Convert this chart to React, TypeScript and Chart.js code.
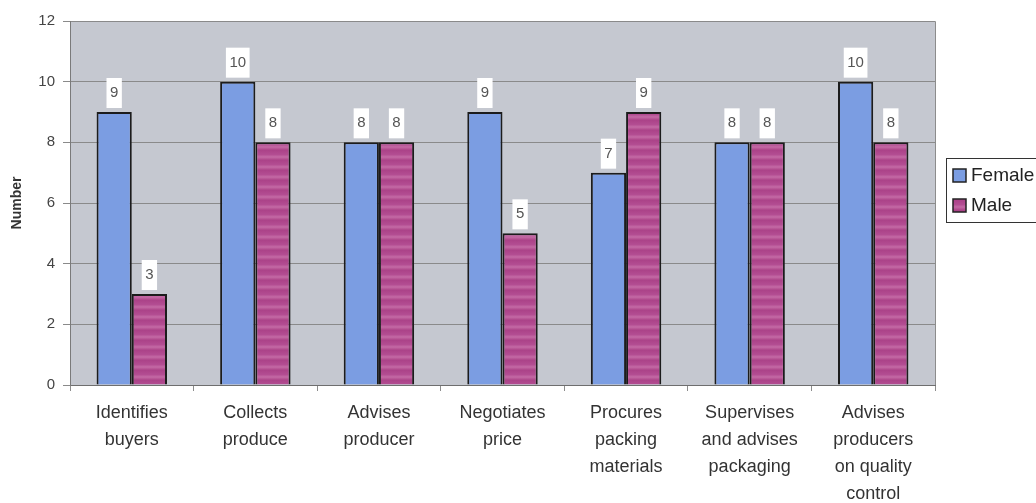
import React, { useEffect, useRef } from "react";
import { Chart, registerables } from "chart.js";

Chart.register(...registerables);

const categories: string[][] = [
  ["Identifies", "buyers"],
  ["Collects", "produce"],
  ["Advises", "producer"],
  ["Negotiates", "price"],
  ["Procures", "packing", "materials"],
  ["Supervises", "and advises", "packaging"],
  ["Advises", "producers", "on quality", "control"],
];

const femaleValues = [9, 10, 8, 9, 7, 8, 10];
const maleValues = [3, 8, 8, 5, 9, 8, 8];

const yTicks = [0, 2, 4, 6, 8, 10, 12];

const FONT = '"Liberation Sans", Arial, sans-serif';

// Soft horizontal banding for the male bars
function stripePattern(): CanvasPattern | string {
  const c = document.createElement("canvas");
  c.width = 8;
  c.height = 10;
  const g = c.getContext("2d");
  if (!g) return "#b04a8f";
  const grad = g.createLinearGradient(0, 0, 0, 10);
  grad.addColorStop(0, "#ab4288");
  grad.addColorStop(0.45, "#b34d92");
  grad.addColorStop(0.7, "#c46aa5");
  grad.addColorStop(1, "#ad4589");
  g.fillStyle = grad;
  g.fillRect(0, 0, 8, 10);
  return g.createPattern(c, "repeat") || "#b04a8f";
}

const plotBackground = {
  id: "plotBackground",
  beforeDraw(chart: any) {
    const { ctx, chartArea: a } = chart;
    ctx.save();
    ctx.fillStyle = "#c5c8d0";
    ctx.fillRect(a.left, a.top, a.right - a.left, a.bottom - a.top);
    ctx.strokeStyle = "#8c8c8c";
    ctx.lineWidth = 1;
    ctx.beginPath();
    ctx.moveTo(a.left, a.top + 0.5);
    ctx.lineTo(a.right + 0.5, a.top + 0.5);
    ctx.lineTo(a.right + 0.5, a.bottom);
    ctx.stroke();
    ctx.restore();
  },
};

const valueLabels = {
  id: "valueLabels",
  afterDatasetsDraw(chart: any) {
    const { ctx } = chart;
    ctx.save();
    ctx.font = `15px ${FONT}`;
    ctx.textAlign = "center";
    ctx.textBaseline = "middle";
    chart.data.datasets.forEach((ds: any, i: number) => {
      const meta = chart.getDatasetMeta(i);
      meta.data.forEach((bar: any, j: number) => {
        const text = String(ds.data[j]);
        const w = ctx.measureText(text).width + 7;
        const h = 30;
        const bottom = bar.y - 4;
        ctx.fillStyle = "#ffffff";
        ctx.fillRect(bar.x - w / 2, bottom - h, w, h);
        ctx.fillStyle = "#555555";
        ctx.fillText(text, bar.x, bottom - h / 2);
      });
    });
    ctx.restore();
  },
};

const boxLegend = {
  id: "boxLegend",
  afterDraw(chart: any) {
    const { ctx } = chart;
    const left = 946;
    const top = 158;
    ctx.save();
    ctx.fillStyle = "#ffffff";
    ctx.fillRect(left, top, 100, 64);
    ctx.strokeStyle = "#333333";
    ctx.lineWidth = 1;
    ctx.strokeRect(left + 0.5, top + 0.5, 100, 64);
    ctx.font = `19px ${FONT}`;
    ctx.textBaseline = "middle";
    ctx.textAlign = "left";
    chart.data.datasets.forEach((ds: any, i: number) => {
      const cy = 175 + i * 30;
      ctx.fillStyle = ds.backgroundColor;
      ctx.fillRect(953, cy - 6, 13, 13);
      ctx.strokeStyle = "#222222";
      ctx.lineWidth = 1.5;
      ctx.strokeRect(953, cy - 6, 13, 13);
      ctx.fillStyle = "#222222";
      ctx.fillText(ds.label, 971, cy + 1);
    });
    ctx.restore();
  },
};

export default function App() {
  const ref = useRef<HTMLCanvasElement | null>(null);

  useEffect(() => {
    document.body.style.margin = "0";
    if (!ref.current) return;
    const chart = new Chart(ref.current, {
      type: "bar",
      data: {
        labels: categories,
        datasets: [
          {
            label: "Female",
            data: femaleValues,
            backgroundColor: "#7b9de2",
            borderColor: "#1c1c1c",
            borderWidth: 2,
            categoryPercentage: 0.57,
            barPercentage: 1,
          },
          {
            label: "Male",
            data: maleValues,
            backgroundColor: stripePattern() as any,
            borderColor: "#1c1c1c",
            borderWidth: 2,
            categoryPercentage: 0.57,
            barPercentage: 1,
          },
        ],
      },
      options: {
        responsive: false,
        animation: false,
        layout: { padding: { left: 0, top: 21, right: 101, bottom: 0 } },
        plugins: {
          legend: { display: false },
          tooltip: { enabled: false },
        },
        scales: {
          x: {
            grid: {
              offset: true,
              drawOnChartArea: false,
              drawTicks: true,
              tickLength: 6,
              color: "#8c8c8c",
            },
            border: { color: "#6e6e6e" },
            ticks: {
              font: { family: FONT, size: 18, lineHeight: 1.5 },
              color: "#333333",
              padding: 9,
              maxRotation: 0,
              autoSkip: false,
            },
            afterFit(scale: any) {
              scale.height = 118;
            },
          },
          y: {
            min: 0,
            max: 12,
            afterBuildTicks(scale: any) {
              scale.ticks = yTicks.map((v) => ({ value: v }));
            },
            grid: {
              color: "#8a8a8a",
              tickLength: 7,
            },
            border: { color: "#7a7a7a" },
            ticks: {
              font: { family: FONT, size: 15 },
              color: "#444444",
              padding: 8,
            },
            title: {
              display: true,
              text: "Number",
              font: { family: FONT, size: 14, weight: "bold" },
              color: "#333333",
              padding: { top: 9, bottom: 0 },
            },
            afterFit(scale: any) {
              scale.width = 70;
            },
          },
        },
      },
      plugins: [plotBackground, valueLabels, boxLegend],
    });
    return () => chart.destroy();
  }, []);

  return (
    <div style={{ position: "fixed", left: 0, top: 0, width: 1036, height: 503 }}>
      <canvas ref={ref} width={1036} height={503} />
    </div>
  );
}
